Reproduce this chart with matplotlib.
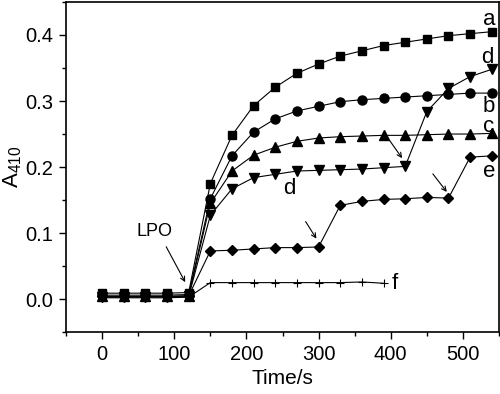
import matplotlib
matplotlib.use("Agg")
import matplotlib.pyplot as plt

plt.rcParams['font.family'] = ['Liberation Sans', 'DejaVu Sans']
plt.rcParams['mathtext.fontset'] = 'custom'
plt.rcParams['mathtext.rm'] = 'Liberation Sans'

t_full = [0, 30, 60, 90, 120, 150, 180, 210, 240, 270, 300, 330, 360, 390, 420, 450, 480, 510, 540]
t_f = [0, 30, 60, 90, 120, 150, 180, 210, 240, 270, 300, 330, 360, 390]

a_vals = [0.009, 0.009, 0.009, 0.009, 0.010, 0.175, 0.248, 0.293, 0.321, 0.342, 0.356, 0.368, 0.376, 0.384, 0.389, 0.394, 0.399, 0.402, 0.405]
b_vals = [0.006, 0.006, 0.006, 0.006, 0.007, 0.152, 0.217, 0.253, 0.273, 0.285, 0.292, 0.299, 0.302, 0.304, 0.306, 0.308, 0.310, 0.312, 0.312]
c_vals = [0.004, 0.004, 0.004, 0.004, 0.005, 0.145, 0.194, 0.218, 0.230, 0.239, 0.244, 0.246, 0.247, 0.248, 0.248, 0.249, 0.250, 0.250, 0.251]
d_vals = [0.003, 0.003, 0.003, 0.003, 0.004, 0.127, 0.167, 0.184, 0.189, 0.194, 0.195, 0.196, 0.197, 0.199, 0.201, 0.284, 0.319, 0.337, 0.348]
e_vals = [0.004, 0.004, 0.004, 0.004, 0.005, 0.073, 0.074, 0.076, 0.078, 0.078, 0.079, 0.142, 0.148, 0.151, 0.152, 0.154, 0.153, 0.215, 0.217]
f_vals = [0.002, 0.002, 0.002, 0.002, 0.003, 0.025, 0.025, 0.025, 0.025, 0.025, 0.025, 0.025, 0.026, 0.024]

fig = plt.figure(figsize=(5.0, 3.94), dpi=100)
ax = fig.add_axes([0.132, 0.157, 0.866, 0.838])

lw = 0.8
ax.plot(t_full, a_vals, '-', color='black', lw=lw, marker='s', ms=6)
ax.plot(t_full, b_vals, '-', color='black', lw=lw, marker='o', ms=6.5)
ax.plot(t_full, c_vals, '-', color='black', lw=lw, marker='^', ms=7)
ax.plot(t_full, d_vals, '-', color='black', lw=lw, marker='v', ms=7)
ax.plot(t_full, e_vals, '-', color='black', lw=lw, marker='D', ms=5)
ax.plot(t_f, f_vals, '-', color='black', lw=lw, marker='+', ms=6, mew=0.8)

ax.set_xlim(-50, 550)
ax.set_ylim(-0.05, 0.45)
ax.set_xticks([0, 100, 200, 300, 400, 500])
ax.set_xticks([-50, 50, 150, 250, 350, 450, 550], minor=True)
ax.set_yticks([0.0, 0.1, 0.2, 0.3, 0.4])
ax.set_yticks([-0.05, 0.05, 0.15, 0.25, 0.35, 0.45], minor=True)
ax.set_yticklabels(['0.0', '0.1', '0.2', '0.3', '0.4'])
ax.tick_params(which='major', direction='out', length=5, width=1, labelsize=14.5, pad=4)
ax.tick_params(which='minor', direction='out', length=3, width=1)
ax.tick_params(top=False, right=False)
for s in ax.spines.values():
    s.set_linewidth(1.2)

ax.set_xlabel('Time/s', fontsize=15, labelpad=4)
ax.set_ylabel(r'$\mathregular{A_{410}}$', fontsize=16, labelpad=1)

tk = dict(fontsize=16, ha='center', va='center')
ax.text(536, 0.424, 'a', **tk)
ax.text(534, 0.366, 'd', **tk)
ax.text(536, 0.291, 'b', **tk)
ax.text(536, 0.262, 'c', **tk)
ax.text(536, 0.193, 'e', **tk)
ax.text(260, 0.168, 'd', **tk)
ax.text(406, 0.024, 'f', **tk)
ax.text(73, 0.103, 'LPO', fontsize=13, ha='center', va='center')

ap = dict(arrowstyle='->', color='black', lw=0.8, mutation_scale=8)
ax.annotate('', xy=(117, 0.022), xytext=(87, 0.083), arrowprops=ap)
ax.annotate('', xy=(418, 0.210), xytext=(396, 0.244), arrowprops=ap)
ax.annotate('', xy=(480, 0.159), xytext=(456, 0.193), arrowprops=ap)
ax.annotate('', xy=(299, 0.088), xytext=(280, 0.121), arrowprops=ap)

fig.savefig('out.png', dpi=100)
